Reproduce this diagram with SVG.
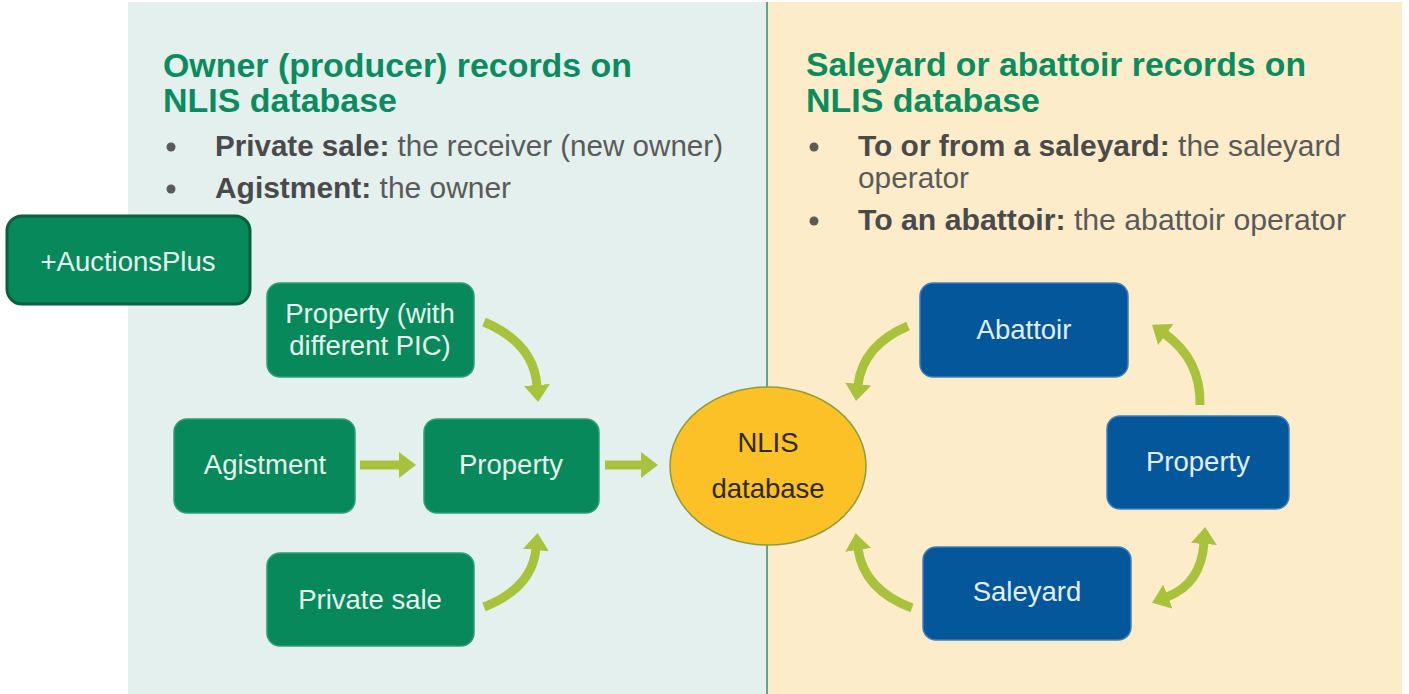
<svg xmlns="http://www.w3.org/2000/svg" width="1409" height="694" viewBox="0 0 1409 694">
<defs>
<style>
.title{font-family:"Liberation Sans",Arial,sans-serif;font-weight:bold;font-size:33px;fill:#0a8c5f}
.bul{font-family:"Liberation Sans",Arial,sans-serif;font-size:29px;fill:#5a5a5a}
.bul tspan.b{font-weight:bold;fill:#4a4a4a}
.gnode{fill:#07895c;stroke:#2f9f77;stroke-width:1.5}
.bnode{fill:#04579b;stroke:#3d7fb8;stroke-width:1.5}
.lbl{font-family:"Liberation Sans",Arial,sans-serif;font-size:27.5px;fill:#e8f4ee;text-anchor:middle}
.lblb{font-family:"Liberation Sans",Arial,sans-serif;font-size:27.5px;fill:#e4eef8;text-anchor:middle}
.arr{fill:none;stroke:#a9c23c;stroke-width:9}
</style>
<marker id="ah" markerUnits="userSpaceOnUse" markerWidth="18" markerHeight="26" refX="1" refY="13" orient="auto-start-reverse" viewBox="0 0 18 26">
<path d="M0,0 L17,13 L0,26 z" fill="#a9c23c"/>
</marker>
</defs>
<rect x="0" y="0" width="1409" height="694" fill="#ffffff"/>
<rect x="128" y="2" width="639" height="692" fill="#e3f0ee"/>
<rect x="767" y="2" width="635" height="692" fill="#fcecca"/>
<line x1="767" y1="2" x2="767" y2="694" stroke="#5ea98c" stroke-width="2"/>

<g id="left-text">
<text class="title" x="163" y="77" textLength="469" lengthAdjust="spacingAndGlyphs">Owner (producer) records on</text>
<text class="title" x="163" y="112" textLength="234" lengthAdjust="spacingAndGlyphs">NLIS database</text>
<circle cx="171" cy="147" r="4.5" fill="#5a5a5a"/>
<text class="bul" x="215" y="156" textLength="508" lengthAdjust="spacingAndGlyphs"><tspan class="b">Private sale:</tspan> the receiver (new owner)</text>
<circle cx="171" cy="189" r="4.5" fill="#5a5a5a"/>
<text class="bul" x="215" y="198" textLength="296" lengthAdjust="spacingAndGlyphs"><tspan class="b">Agistment:</tspan> the owner</text>
</g>

<g id="right-text">
<text class="title" x="806" y="76" textLength="500" lengthAdjust="spacingAndGlyphs">Saleyard or abattoir records on</text>
<text class="title" x="806" y="112" textLength="234" lengthAdjust="spacingAndGlyphs">NLIS database</text>
<circle cx="814" cy="147" r="4.5" fill="#5a5a5a"/>
<text class="bul" x="858" y="156" textLength="483" lengthAdjust="spacingAndGlyphs"><tspan class="b">To or from a saleyard:</tspan> the saleyard</text>
<text class="bul" x="858" y="188" textLength="111" lengthAdjust="spacingAndGlyphs">operator</text>
<circle cx="814" cy="221" r="4.5" fill="#5a5a5a"/>
<text class="bul" x="858" y="230" textLength="488" lengthAdjust="spacingAndGlyphs"><tspan class="b">To an abattoir:</tspan> the abattoir operator</text>
</g>

<g id="connectors">
<path class="arr" d="M360,465 H400" marker-end="url(#ah)"/>
<path class="arr" d="M605,465 H642" marker-end="url(#ah)"/>
<path class="arr" d="M484,322 Q534,343 537,386" marker-end="url(#ah)"/>
<path class="arr" d="M484,607 Q532,588 536,549" marker-end="url(#ah)"/>
<path class="arr" d="M908,326 Q863,345 858,385" marker-end="url(#ah)"/>
<path class="arr" d="M912,608 Q864,590 858,549" marker-end="url(#ah)"/>
<path class="arr" d="M1200,405 Q1201,360 1165,334" marker-end="url(#ah)"/>
<path class="arr" d="M1204,543 Q1201,584 1167,597" marker-start="url(#ah)" marker-end="url(#ah)"/>
</g>

<g id="node-auctionsplus">
<rect x="7" y="216" width="243" height="88" rx="15" fill="#07895c" stroke="#0b5f3d" stroke-width="3"/>
<text class="lbl" x="128" y="271">+AuctionsPlus</text>
</g>
<g id="node-property-pic">
<rect class="gnode" x="267" y="283" width="207" height="94" rx="13"/>
<text class="lbl" x="370" y="323">Property (with</text>
<text class="lbl" x="370" y="355">different PIC)</text>
</g>
<g id="node-agistment">
<rect class="gnode" x="174" y="419" width="181" height="94" rx="13"/>
<text class="lbl" x="265" y="474">Agistment</text>
</g>
<g id="node-property-left">
<rect class="gnode" x="424" y="419" width="175" height="94" rx="13"/>
<text class="lbl" x="511" y="474">Property</text>
</g>
<g id="node-private-sale">
<rect class="gnode" x="267" y="553" width="207" height="93" rx="13"/>
<text class="lbl" x="370" y="609">Private sale</text>
</g>
<g id="node-nlis">
<ellipse cx="768" cy="466" rx="98" ry="79" fill="#fcc126" stroke="#8e9c3c" stroke-width="1.5"/>
<text class="lbl" x="768" y="452" style="fill:#2e2a1e">NLIS</text>
<text class="lbl" x="768" y="498" style="fill:#2e2a1e">database</text>
</g>
<g id="node-abattoir">
<rect class="bnode" x="920" y="283" width="208" height="94" rx="13"/>
<text class="lblb" x="1024" y="339">Abattoir</text>
</g>
<g id="node-property-right">
<rect class="bnode" x="1107" y="416" width="182" height="93" rx="13"/>
<text class="lblb" x="1198" y="471">Property</text>
</g>
<g id="node-saleyard">
<rect class="bnode" x="923" y="547" width="208" height="93" rx="13"/>
<text class="lblb" x="1027" y="601">Saleyard</text>
</g>
</svg>
